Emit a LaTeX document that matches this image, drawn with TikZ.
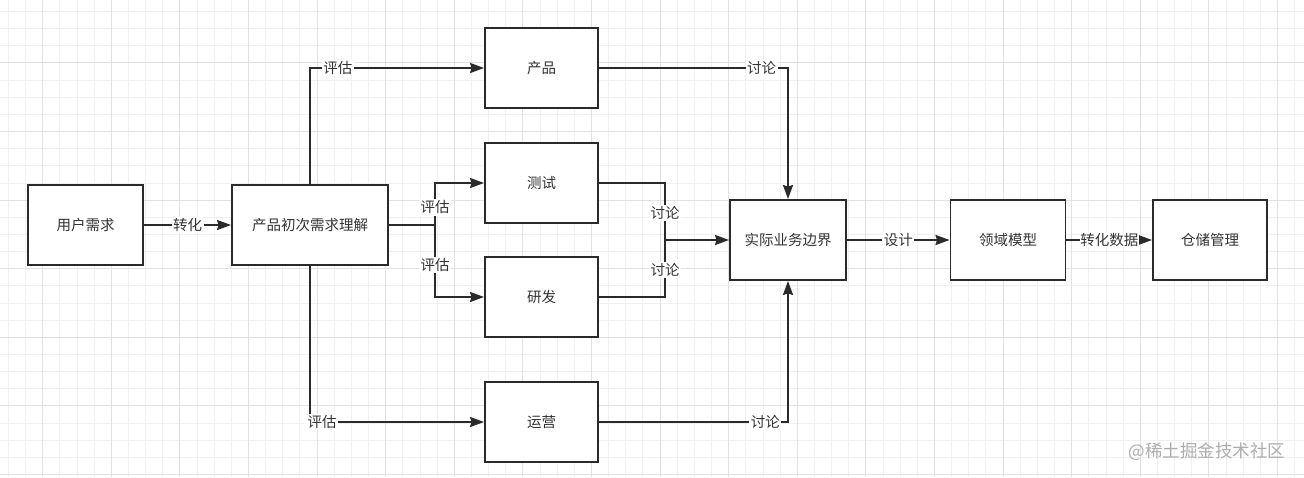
\documentclass[tikz,border=0pt]{standalone}
\usepackage{fontspec}
\setmainfont{Noto Sans CJK SC}
\usetikzlibrary{arrows.meta}
\definecolor{ln}{HTML}{2A2A2A}
\definecolor{txt}{HTML}{333333}
\definecolor{gminor}{HTML}{F0F0F0}
\definecolor{gmajor}{HTML}{E2E2E2}
\definecolor{wm}{HTML}{ADADAD}
\begin{document}
\begin{tikzpicture}[x=1pt,y=-1pt,font=\fontsize{14.5}{16}\selectfont,
  box/.style={draw=ln,line width=1.9pt,fill=white,text=txt,inner sep=0pt},
  conn/.style={draw=ln,line width=1.9pt},
  arr/.style={conn,-{Stealth[length=14pt,width=10pt,inset=1.5pt]}},
  lbl/.style={fill=white,inner sep=1.5pt,text=txt}]
\fill[white] (0,0) rectangle (1304,477);
\useasboundingbox (0,0) rectangle (1304,477);
% grid
\foreach \i in {0,...,75} {\draw[gminor,line width=0.8pt] ({8.3+17.15*\i},0) -- ++(0,477);}
\foreach \j in {0,...,27} {\draw[gminor,line width=0.8pt] (0,{11.4+17.15*\j}) -- ++(1304,0);}
\foreach \i in {0,...,18} {\draw[gmajor,line width=0.8pt] ({42.6+68.6*\i},0) -- ++(0,477);}
\foreach \j in {0,...,6} {\draw[gmajor,line width=0.8pt] (0,{62.85+68.6*\j}) -- ++(1304,0);}
% boxes
\node[box,minimum width=115pt,minimum height=80pt] (u) at (85.5,225) {用户需求};
\node[box,minimum width=156pt,minimum height=80pt] (p0) at (310,225) {产品初次需求理解};
\node[box,minimum width=113pt,minimum height=80pt] (cp) at (541.5,68) {产品};
\node[box,minimum width=113pt,minimum height=80pt] (cs) at (541.5,183) {测试};
\node[box,minimum width=113pt,minimum height=80pt] (yf) at (541.5,297) {研发};
\node[box,minimum width=113pt,minimum height=80pt] (yy) at (541.5,422) {运营};
\node[box,minimum width=116pt,minimum height=80pt] (sj) at (788,240) {实际业务边界};
\node[box,minimum width=115pt,minimum height=80pt] (ly) at (1008,240) {领域模型};
\node[box,minimum width=114pt,minimum height=80pt] (cc) at (1210,240) {仓储管理};
\coordinate (b1) at (435,225);
\coordinate (b2) at (665,240);
% connectors
\draw[arr] (u) -- node[lbl]{转化} (p0);
\draw[arr] (p0.north) |- node[lbl,pos=0.58]{评估} (cp.west);
\draw[arr] (p0.south) |- node[lbl,pos=0.535]{评估} (yy.west);
\draw[conn] (p0.east) -- (b1);
\draw[arr] (b1) |- node[lbl,pos=0.21]{评估} (cs.west);
\draw[arr] (b1) |- node[lbl,pos=0.28]{评估} (yf.west);
\draw[arr] (cp.east) -| node[lbl,pos=0.43]{讨论} (sj.north);
\draw[arr] (yy.east) -| node[lbl,pos=0.44]{讨论} (sj.south);
\draw[conn] (cs.east) -| node[lbl,pos=0.76]{讨论} (b2);
\draw[conn] (yf.east) -| node[lbl,pos=0.74]{讨论} (b2);
\draw[arr] (b2) -- (sj.west);
\draw[arr] (sj) -- node[lbl]{设计} (ly);
\draw[arr] (ly) -- node[lbl,inner sep=0.5pt]{转化数据} (cc);
% watermark
\node[text=wm,font=\fontsize{17.5}{19}\selectfont] (wmk) at (1207,452) {@稀土掘金技术社区};
\end{tikzpicture}
\end{document}
